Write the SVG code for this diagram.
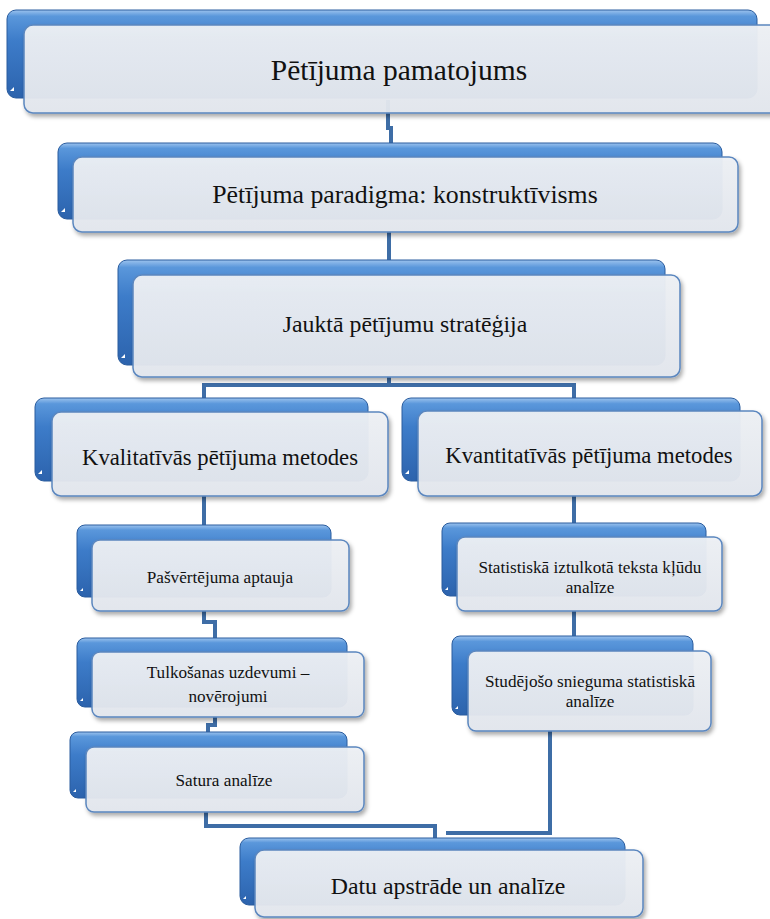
<svg xmlns="http://www.w3.org/2000/svg" width="770" height="919" viewBox="0 0 770 919">
<defs>
<linearGradient id="gBack" x1="0" y1="0" x2="0" y2="1">
<stop offset="0" stop-color="#9cc3ee"/>
<stop offset="0.07" stop-color="#5a97db"/>
<stop offset="0.35" stop-color="#3d7cc9"/>
<stop offset="1" stop-color="#2c63ad"/>
</linearGradient>
<linearGradient id="gFront" x1="0" y1="0" x2="0" y2="1">
<stop offset="0" stop-color="#eef1f5"/>
<stop offset="1" stop-color="#e3e7ee"/>
</linearGradient>
<filter id="sh" x="-5%" y="-10%" width="115%" height="130%">
<feDropShadow dx="2" dy="3" stdDeviation="2" flood-color="#000" flood-opacity="0.35"/>
</filter>
</defs>
<style>
.back{fill:url(#gBack);stroke:#2a5c9e;stroke-width:1}
.front{fill:url(#gFront);stroke:#5b87bf;stroke-width:1.5;fill-opacity:0.95}
.notch{fill:#fff}
.con{fill:none;stroke:#3e6da6;stroke-width:4}
.lbl{fill:#111;text-anchor:middle;font-family:"Liberation Serif","Times New Roman",serif}
.t1{font-size:29.5px}
.t2{font-size:25.8px}
.t3{font-size:23.8px}
.t4{font-size:22.7px}
.t5{font-size:17.2px}
</style>
<rect width="770" height="919" fill="#fff"/>

<g id="connectors">
<path class="con" d="M388,100 V128 H391 V145"/>
<path class="con" d="M389,232 V262"/>
<path class="con" d="M389,377 V385 M204,385 H574 M204,383 V400 M574,383 V400"/>
<path class="con" d="M204,496 V527"/>
<path class="con" d="M204,611 V622 H215 V640"/>
<path class="con" d="M215,717 V725 H208 V734"/>
<path class="con" d="M574,496 V525"/>
<path class="con" d="M574,611 V638"/>
<path class="con" d="M206,812 V826 H435 V840"/>
<path class="con" d="M550,731 V833 H446"/>
</g>

<g id="n1">
<rect class="back" x="7" y="10" width="750" height="88" rx="9"/>
<path class="notch" d="M10,91 l4,-4 v4 z"/>
<rect class="front" x="24" y="25" width="760" height="88" rx="9" filter="url(#sh)"/>
<text class="lbl t1" x="399" y="80">Pētījuma pamatojums</text>
</g>

<g id="n2">
<rect class="back" x="58" y="143" width="664" height="76" rx="9"/>
<path class="notch" d="M61,212 l4,-4 v4 z"/>
<rect class="front" x="73" y="157" width="665" height="75" rx="9" filter="url(#sh)"/>
<text class="lbl t2" x="405" y="203">Pētījuma paradigma: konstruktīvisms</text>
</g>

<g id="n3">
<rect class="back" x="118" y="260" width="547" height="105" rx="9"/>
<path class="notch" d="M121,358 l4,-4 v4 z"/>
<rect class="front" x="133" y="275" width="547" height="102" rx="9" filter="url(#sh)"/>
<text class="lbl t3" x="405" y="332">Jauktā pētījumu stratēģija</text>
</g>

<g id="n4">
<rect class="back" x="35" y="398" width="333" height="83" rx="9"/>
<path class="notch" d="M38,474 l4,-4 v4 z"/>
<rect class="front" x="52" y="412" width="336" height="84" rx="9" filter="url(#sh)"/>
<text class="lbl t4" x="220" y="465">Kvalitatīvās pētījuma metodes</text>
</g>

<g id="n5">
<rect class="back" x="402" y="398" width="338" height="83" rx="9"/>
<path class="notch" d="M405,474 l4,-4 v4 z"/>
<rect class="front" x="418" y="411" width="344" height="85" rx="9" filter="url(#sh)"/>
<text class="lbl t4" x="589" y="463">Kvantitatīvās pētījuma metodes</text>
</g>

<g id="n6">
<rect class="back" x="77" y="525" width="254" height="72" rx="8"/>
<path class="notch" d="M80,591 l3,-3 v3 z"/>
<rect class="front" x="92" y="540" width="257" height="71" rx="8" filter="url(#sh)"/>
<text class="lbl t5" x="220" y="583">Pašvērtējuma aptauja</text>
</g>

<g id="n7">
<rect class="back" x="77" y="638" width="270" height="69" rx="8"/>
<path class="notch" d="M80,701 l3,-3 v3 z"/>
<rect class="front" x="92" y="652" width="272" height="65" rx="8" filter="url(#sh)"/>
<text class="lbl t5" x="228" y="678">Tulkošanas uzdevumi –</text>
<text class="lbl t5" x="228" y="702">novērojumi</text>
</g>

<g id="n8">
<rect class="back" x="70" y="732" width="277" height="66" rx="8"/>
<path class="notch" d="M73,792 l3,-3 v3 z"/>
<rect class="front" x="86" y="747" width="278" height="65" rx="8" filter="url(#sh)"/>
<text class="lbl t5" x="224" y="786">Satura analīze</text>
</g>

<g id="n9">
<rect class="back" x="442" y="523" width="264" height="73" rx="8"/>
<path class="notch" d="M445,590 l3,-3 v3 z"/>
<rect class="front" x="457" y="537" width="265" height="74" rx="8" filter="url(#sh)"/>
<text class="lbl t5" x="590" y="573">Statistiskā iztulkotā teksta kļūdu</text>
<text class="lbl t5" x="590" y="593">analīze</text>
</g>

<g id="n10">
<rect class="back" x="452" y="636" width="241" height="79" rx="8"/>
<path class="notch" d="M455,709 l3,-3 v3 z"/>
<rect class="front" x="468" y="651" width="243" height="80" rx="8" filter="url(#sh)"/>
<text class="lbl t5" x="590" y="687">Studējošo snieguma statistiskā</text>
<text class="lbl t5" x="590" y="707">analīze</text>
</g>

<g id="n11">
<rect class="back" x="240" y="838" width="385" height="67" rx="9"/>
<path class="notch" d="M243,899 l3,-3 v3 z"/>
<rect class="front" x="255" y="850" width="388" height="67" rx="9" filter="url(#sh)"/>
<text class="lbl t3" x="448" y="894">Datu apstrāde un analīze</text>
</g>
</svg>
